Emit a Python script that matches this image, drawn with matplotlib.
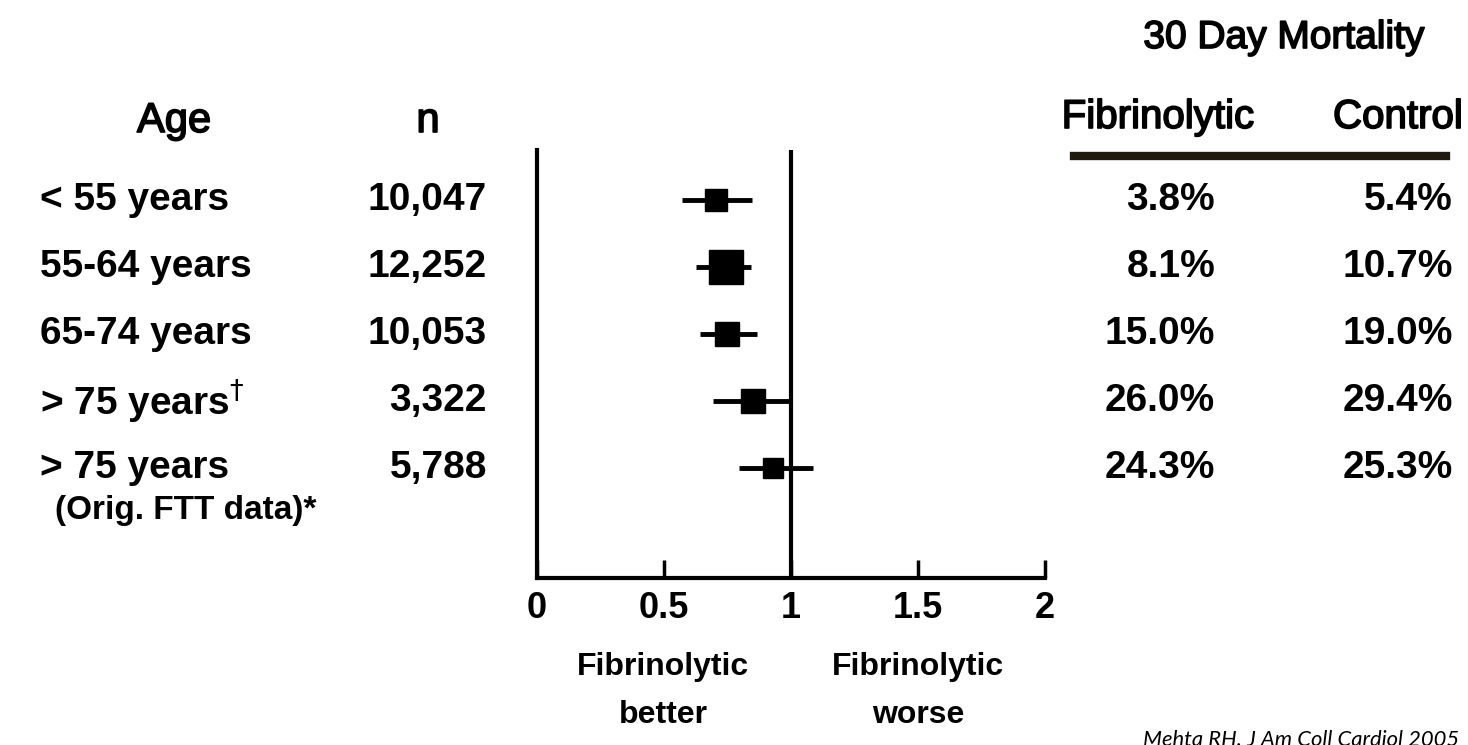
import numpy as np
import matplotlib
matplotlib.use('Agg')
import matplotlib.pyplot as plt
import matplotlib.patheffects as pe

W, H = 1468, 745

# Donnees
age_labels = ['< 55 years', '55-64 years', '65-74 years', r'> 75 years$^{\dagger}$', '> 75 years']
n_values = ['10,047', '12,252', '10,053', '3,322', '5,788']
odds_ratio = [0.705, 0.744, 0.748, 0.85, 0.93]
ci_low = [0.57, 0.626, 0.642, 0.693, 0.795]
ci_high = [0.846, 0.843, 0.866, 1.0, 1.087]
weight = [0.44, 1.0, 0.49, 0.49, 0.37]
mort_fib = ['3.8%', '8.1%', '15.0%', '26.0%', '24.3%']
mort_ctrl = ['5.4%', '10.7%', '19.0%', '29.4%', '25.3%']
x_ticks = [0, 0.5, 1, 1.5, 2]
x_tick_labels = ['0', '0.5', '1', '1.5', '2']

sans = ['Liberation Sans', 'DejaVu Sans']
thick = [pe.withStroke(linewidth=1.2, foreground='black')]


def fx(x):
    return x / W


def fy(y):
    return 1 - y / H


def row_y(i):
    return 200 + 67 * i


fig = plt.figure(figsize=(W / 100, H / 100), dpi=100)

# Forest plot
ax = fig.add_axes([fx(537), fy(578), (1045 - 537) / W, (578 - 150) / H])
rows = np.arange(len(odds_ratio))
ax.set_xlim(0, 2)
ax.set_ylim((578 - 200) / 67, (150 - 200) / 67)
for s in ['top', 'right']:
    ax.spines[s].set_visible(False)
for s in ['left', 'bottom']:
    ax.spines[s].set_linewidth(3)
ax.axvline(1, color='black', lw=3)
ax.hlines(rows, ci_low, ci_high, color='black', lw=3.5)
for i in rows:
    ax.plot(odds_ratio[i], i, marker='s', ms=23.8 * np.sqrt(weight[i]), color='black', mec='black')
ax.set_yticks([])
ax.set_xticks(x_ticks)
ax.set_xticklabels(x_tick_labels, fontsize=26, fontweight='bold', family=sans)
ax.tick_params(axis='x', direction='in', length=13, width=2.5, pad=9)

# Colonnes de gauche
fig.text(fx(174), fy(132), 'Age', ha='center', va='baseline', fontsize=30, family=sans, path_effects=thick)
fig.text(fx(428), fy(132), 'n', ha='center', va='baseline', fontsize=30, family=sans, path_effects=thick)
for i in rows:
    fig.text(fx(40), fy(row_y(i)), age_labels[i], ha='left', va='center',
             fontsize=28, fontweight='bold', family=sans)
    fig.text(fx(487), fy(row_y(i)), n_values[i], ha='right', va='center',
             fontsize=28, fontweight='bold', family=sans)
fig.text(fx(55), fy(510), '(Orig. FTT data)*', ha='left', va='center',
         fontsize=24, fontweight='bold', family=sans)

# Mortalite a 30 jours
fig.text(fx(1284), fy(48), '30 Day Mortality', ha='center', va='baseline', fontsize=28, family=sans, path_effects=thick)
fig.text(fx(1158), fy(128), 'Fibrinolytic', ha='center', va='baseline', fontsize=29, family=sans, path_effects=thick)
fig.text(fx(1463), fy(128), 'Control', ha='right', va='baseline', fontsize=29, family=sans, path_effects=thick)
fig.add_artist(plt.Line2D([fx(1074), fx(1446)], [fy(156), fy(156)], color='#1f1a10', lw=6,
                          transform=fig.transFigure))
for i in rows:
    fig.text(fx(1215), fy(row_y(i)), mort_fib[i], ha='right', va='center',
             fontsize=28, fontweight='bold', family=sans)
    fig.text(fx(1453), fy(row_y(i)), mort_ctrl[i], ha='right', va='center',
             fontsize=28, fontweight='bold', family=sans)

# Legende sous l'axe
fig.text(fx(663), fy(667), 'Fibrinolytic', ha='center', va='center', fontsize=23, fontweight='bold', family=sans)
fig.text(fx(663), fy(715), 'better', ha='center', va='center', fontsize=23, fontweight='bold', family=sans)
fig.text(fx(918), fy(667), 'Fibrinolytic', ha='center', va='center', fontsize=23, fontweight='bold', family=sans)
fig.text(fx(918), fy(715), 'worse', ha='center', va='center', fontsize=23, fontweight='bold', family=sans)

fig.text(fx(1143), fy(746), 'Mehta RH. J Am Coll Cardiol 2005', ha='left', va='baseline',
         fontsize=15.8, style='italic', family=['Lato', 'DejaVu Sans'])

fig.savefig('out.png', dpi=100)
